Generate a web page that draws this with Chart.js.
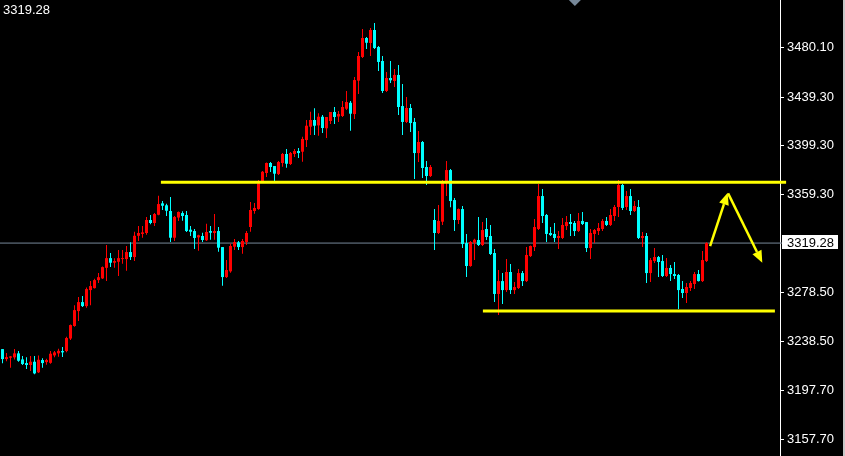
<!DOCTYPE html>
<html><head><meta charset="utf-8">
<script src="https://cdn.jsdelivr.net/npm/chart.js@4.4.1/dist/chart.umd.min.js"></script>
<style>
html,body{margin:0;padding:0;background:#000;overflow:hidden;}
#wrap{position:relative;width:845px;height:456px;background:#000;}
#c{position:absolute;left:0;top:0;}
#strip{position:absolute;left:843px;top:0;width:2px;height:456px;background:#c8c8c8;}
#tl{position:absolute;left:3px;top:2px;color:#fff;font:13px "Liberation Sans",sans-serif;line-height:15px;}
</style></head><body>
<div id="wrap"><canvas id="c" width="843" height="456"></canvas><div id="strip"></div><div id="tl">3319.28</div></div>
<script>
// ---- data ----
const opens = [3232.0,3223.8,3224.9,3225.2,3228.5,3223.5,3220.5,3218.9,3221.6,3212.9,3223.0,3221.3,3220.7,3226.8,3228.5,3230.4,3230.4,3240.7,3251.0,3263.3,
3270.7,3267.4,3280.6,3282.2,3288.8,3290.2,3298.9,3306.9,3303.1,3303.9,3306.1,3306.1,3311.9,3307.8,3325.3,3326.8,3327.6,3338.3,3335.8,3342.6,
3352.0,3350.4,3345.7,3323.7,3340.3,3344.0,3342.4,3330.3,3329.2,3324.0,3325.1,3321.6,3329.2,3327.6,3329.2,3316.0,3291.3,3296.0,3316.3,3319.9,
3316.0,3320.2,3332.5,3345.7,3347.3,3369.8,3377.0,3385.2,3382.7,3376.1,3385.2,3392.6,3384.4,3392.6,3395.1,3394.5,3404.1,3415.1,3420.6,3416.2,
3423.3,3413.8,3419.8,3427.2,3423.5,3423.9,3429.9,3434.8,3425.5,3453.0,3472.5,3488.1,3484.0,3494.7,3480.7,3469.2,3444.5,3455.2,3452.7,3457.7,
3432.1,3419.0,3430.5,3419.0,3393.4,3402.5,3381.9,3374.5,3338.3,3327.6,3336.9,3369.8,3379.4,3354.7,3338.3,3347.3,3319.3,3300.4,3319.6,3321.8,
3317.7,3330.9,3325.1,3311.1,3277.4,3288.0,3280.6,3295.5,3280.6,3282.3,3294.6,3288.0,3308.6,3316.0,3330.9,3358.0,3342.4,3327.6,3326.8,3323.5,
3323.5,3333.3,3336.6,3335.8,3329.2,3337.5,3336.6,3315.2,3326.8,3329.2,3330.9,3337.5,3334.2,3341.6,3349.0,3367.1,3349.0,3358.0,3345.7,3349.0,
3323.5,3325.1,3294.6,3304.5,3307.8,3304.5,3292.2,3298.8,3293.8,3293.0,3281.5,3278.2,3282.3,3285.6,3293.8,3288.0,3304.5];
const highs = [3232.0,3228.7,3226.3,3232.0,3230.4,3226.3,3225.2,3226.3,3226.3,3226.8,3224.4,3224.0,3230.4,3230.4,3232.3,3233.7,3242.2,3252.3,3268.2,3274.8,
3275.7,3282.7,3288.0,3290.0,3294.7,3300.1,3317.7,3311.1,3306.7,3313.6,3313.6,3316.9,3319.9,3328.6,3333.3,3333.3,3340.8,3342.4,3344.0,3358.3,
3353.9,3351.7,3357.2,3341.6,3345.2,3345.4,3345.7,3333.3,3330.9,3326.2,3327.8,3335.2,3333.3,3343.2,3332.5,3316.0,3305.3,3318.8,3322.6,3321.0,
3322.6,3329.2,3353.1,3352.3,3371.2,3378.6,3385.6,3386.0,3382.7,3386.9,3393.4,3396.7,3394.3,3396.7,3397.5,3406.9,3420.6,3427.4,3430.2,3426.1,
3424.7,3423.1,3427.2,3431.3,3428.0,3436.2,3444.5,3436.2,3456.0,3476.6,3495.5,3488.9,3496.3,3500.5,3481.5,3473.3,3460.1,3469.2,3462.6,3465.9,
3450.3,3439.5,3433.8,3422.2,3411.5,3403.3,3386.8,3383.6,3347.3,3350.6,3371.2,3386.8,3380.3,3356.4,3347.8,3349.8,3326.8,3321.0,3322.9,3340.8,
3336.6,3339.9,3334.2,3314.4,3297.1,3294.6,3306.2,3302.1,3287.2,3297.9,3296.3,3316.0,3317.3,3339.1,3367.9,3363.8,3343.2,3332.5,3335.8,3329.2,
3339.9,3341.6,3343.2,3337.5,3344.0,3344.9,3336.6,3330.9,3330.9,3335.8,3339.1,3340.8,3347.3,3350.6,3371.2,3367.9,3362.1,3363.8,3353.9,3354.7,
3328.4,3327.6,3307.0,3315.2,3308.6,3309.5,3307.0,3301.2,3303.7,3293.8,3288.0,3286.4,3288.0,3295.5,3297.1,3312.8,3320.0];
const lows = [3220.3,3222.1,3216.6,3223.5,3221.6,3218.9,3215.6,3213.9,3211.2,3212.3,3216.6,3219.1,3219.9,3225.2,3225.7,3225.4,3229.5,3239.4,3250.4,3255.1,
3266.6,3266.0,3268.2,3281.8,3286.4,3289.8,3288.0,3299.6,3299.0,3292.2,3302.3,3296.5,3305.3,3304.5,3321.0,3323.7,3326.2,3334.7,3333.3,3342.1,
3346.5,3341.6,3320.2,3321.0,3337.5,3337.7,3328.4,3325.1,3314.4,3313.0,3320.2,3321.0,3322.0,3322.0,3312.2,3284.2,3290.5,3294.9,3313.6,3313.6,
3310.5,3317.7,3328.6,3343.5,3346.7,3369.0,3373.7,3377.8,3370.4,3375.3,3382.2,3381.3,3383.6,3390.2,3389.3,3386.3,3398.4,3408.3,3408.3,3407.7,
3409.9,3405.8,3417.3,3417.3,3418.9,3423.1,3428.8,3411.8,3421.4,3442.0,3471.7,3479.1,3473.3,3479.1,3460.9,3442.8,3443.7,3451.1,3447.8,3424.7,
3408.3,3418.1,3410.7,3372.0,3386.0,3372.9,3367.1,3373.7,3313.6,3326.8,3334.2,3358.0,3348.7,3329.2,3335.0,3315.2,3291.3,3299.8,3305.3,3316.9,
3316.9,3321.8,3309.5,3270.8,3260.1,3269.1,3279.0,3277.4,3277.4,3281.5,3283.9,3287.2,3307.8,3312.8,3330.0,3335.8,3320.2,3325.1,3320.2,3314.4,
3322.6,3330.0,3325.1,3325.1,3328.4,3334.2,3311.9,3306.1,3319.3,3325.9,3329.2,3333.3,3333.3,3337.5,3340.8,3346.5,3346.5,3342.4,3344.9,3322.6,
3316.0,3286.4,3287.2,3302.9,3291.3,3291.3,3291.3,3288.0,3289.7,3265.0,3274.1,3269.9,3279.8,3281.5,3287.6,3287.2,3303.7];
const closes = [3223.8,3225.4,3226.0,3228.5,3222.4,3219.7,3218.9,3221.6,3212.0,3223.2,3220.5,3223.0,3228.2,3229.3,3230.6,3229.3,3241.1,3251.8,3264.1,3270.7,
3267.4,3281.4,3283.9,3288.8,3291.2,3299.5,3306.9,3303.1,3304.5,3306.9,3306.9,3311.9,3307.8,3325.3,3327.6,3328.1,3338.3,3335.8,3343.2,3351.4,
3350.0,3345.9,3323.7,3340.8,3344.9,3341.6,3329.2,3328.6,3323.5,3325.7,3321.8,3328.4,3327.8,3329.2,3315.5,3291.3,3297.1,3316.9,3320.2,3316.0,
3321.0,3327.6,3346.5,3348.2,3368.5,3378.0,3385.2,3381.9,3376.4,3386.0,3392.6,3384.6,3393.4,3395.1,3393.4,3405.0,3415.9,3420.6,3415.9,3423.3,
3414.0,3423.1,3427.2,3423.1,3425.5,3431.3,3435.4,3425.8,3453.5,3473.3,3488.1,3484.2,3494.7,3479.9,3468.4,3444.5,3455.2,3453.3,3457.7,3431.3,
3419.0,3430.5,3418.1,3393.4,3402.5,3381.1,3374.5,3381.9,3327.6,3337.5,3370.4,3379.4,3353.9,3338.3,3347.3,3318.5,3300.4,3320.2,3322.0,3317.7,
3330.0,3324.3,3310.3,3277.4,3288.0,3280.6,3295.5,3280.6,3283.1,3294.6,3288.0,3309.5,3316.9,3332.5,3358.0,3341.6,3326.8,3325.9,3323.5,3325.1,
3334.2,3336.6,3335.0,3329.2,3337.5,3335.0,3315.2,3327.6,3330.0,3331.7,3337.5,3334.2,3342.4,3349.0,3367.1,3348.2,3358.0,3345.7,3349.8,3323.5,
3325.1,3294.6,3305.3,3307.8,3303.7,3292.2,3298.8,3293.8,3292.2,3280.6,3278.2,3283.1,3286.4,3293.8,3288.0,3305.3,3319.28];

const priceTicks = [3157.70, 3197.70, 3238.50, 3278.50, 3359.30, 3399.30, 3439.30, 3480.10];
const bidPrice = 3319.28;
const bidLabel = '3319.28';
// horizontal levels: [value, fromCandle, toCandle]
const upperLevel = [3369.4, 39.6, 195.9];
const lowerLevel = [3263.3, 120.1, 193.1];
// arrows: [fromCandle, fromPrice, toCandle, toPrice]
const arrowUp = [176.9, 3316.8, 181.3, 3360.7];
const arrowDown = [181.4, 3360.2, 189.95, 3303.1];
const shiftMarker = 143.1;

// ---- build ----
const X_MIN = -0.625, X_MAX = 194.375, Y_MIN = 3144.0, Y_MAX = 3519.4;
const UP = '#ff0000', DOWN = '#00ffff', YEL = '#ffff00';
const idx = opens.map((_, i) => i);
const colors = idx.map(i => closes[i] >= opens[i] ? UP : DOWN);
const bodyData = idx.map(i => ({x: i, y: [opens[i], closes[i]]}));
const wickData = idx.map(i => ({x: i, y: [lows[i], highs[i]]}));
const lvl = (l) => [{x: l[1], y: l[0]}, {x: l[2], y: l[0]}];

function drawArrow(ctx, x1, y1, x2, y2, hl, hw) {
  const a = Math.atan2(y2 - y1, x2 - x1);
  const bx = x2 - hl * Math.cos(a), by = y2 - hl * Math.sin(a);
  ctx.beginPath(); ctx.moveTo(x1, y1); ctx.lineTo(bx, by); ctx.stroke();
  ctx.beginPath(); ctx.moveTo(x2, y2);
  ctx.lineTo(bx + hw * Math.sin(a), by - hw * Math.cos(a));
  ctx.lineTo(bx - hw * Math.sin(a), by + hw * Math.cos(a));
  ctx.closePath(); ctx.fill();
}

const overlay = {
  id: 'overlay',
  afterDatasetsDraw(chart) {
    const {ctx, scales: {x, y}} = chart;
    ctx.save();
    ctx.strokeStyle = YEL; ctx.fillStyle = YEL; ctx.lineWidth = 2.5;
    [arrowUp, arrowDown].forEach(a => drawArrow(ctx, x.getPixelForValue(a[0]), y.getPixelForValue(a[1]),
      x.getPixelForValue(a[2]), y.getPixelForValue(a[3]), 12, 5));
    ctx.restore();
  },
  afterDraw(chart) {
    const {ctx, chartArea, scales: {x, y}} = chart;
    ctx.save();
    const py = y.getPixelForValue(bidPrice);
    ctx.fillStyle = '#ffffff';
    ctx.fillRect(chartArea.right + 2, Math.round(py) - 8, 56, 14);
    ctx.fillStyle = '#000000';
    ctx.font = '13px "Liberation Sans"';
    ctx.textBaseline = 'middle';
    ctx.fillText(bidLabel, chartArea.right + 7, py);
    const tx = x.getPixelForValue(shiftMarker);
    ctx.fillStyle = '#778899';
    ctx.beginPath(); ctx.moveTo(tx - 6, 0); ctx.lineTo(tx + 6, 0); ctx.lineTo(tx, 6); ctx.closePath(); ctx.fill();
    ctx.restore();
  }
};

new Chart(document.getElementById('c'), {
  type: 'bar',
  data: {
    datasets: [
      {type: 'line', data: lvl(upperLevel), borderColor: YEL, borderWidth: 3, pointRadius: 0, order: 0, clip: {left: 0, top: 0, right: 8, bottom: 0}},
      {type: 'line', data: lvl(lowerLevel), borderColor: YEL, borderWidth: 3, pointRadius: 0, order: 0},
      {type: 'bar', data: bodyData, backgroundColor: colors, barThickness: 3, grouped: false, inflateAmount: 0, borderWidth: 0, minBarLength: 1, order: 2},
      {type: 'bar', data: wickData, backgroundColor: colors, barThickness: 1, grouped: false, inflateAmount: 0, borderWidth: 0, order: 3},
      {type: 'line', data: [{x: X_MIN, y: bidPrice}, {x: X_MAX + 0.5, y: bidPrice}], borderColor: '#778899', borderWidth: 1, pointRadius: 0, order: 4, clip: {left: 0, top: 0, right: 2, bottom: 0}}
    ]
  },
  options: {
    responsive: false, animation: false, devicePixelRatio: 1,
    layout: {padding: 0},
    plugins: {legend: {display: false}, tooltip: {enabled: false}},
    scales: {
      x: {type: 'linear', min: X_MIN, max: X_MAX, display: false, offset: false},
      y: {
        position: 'right', min: Y_MIN, max: Y_MAX,
        border: {display: true, color: '#ffffff', width: 1},
        grid: {drawOnChartArea: false, drawTicks: true, tickLength: 4, color: '#ffffff'},
        ticks: {color: '#ffffff', font: {family: 'Liberation Sans', size: 13}, padding: 3, autoSkip: false,
          callback: v => Number(v).toFixed(2)},
        afterBuildTicks: s => { s.ticks = priceTicks.map(v => ({value: v})); },
        afterFit: s => { s.width = 63; s.paddingTop = 0; s.paddingBottom = 0; }
      }
    }
  },
  plugins: [overlay]
});
</script>
</body></html>
